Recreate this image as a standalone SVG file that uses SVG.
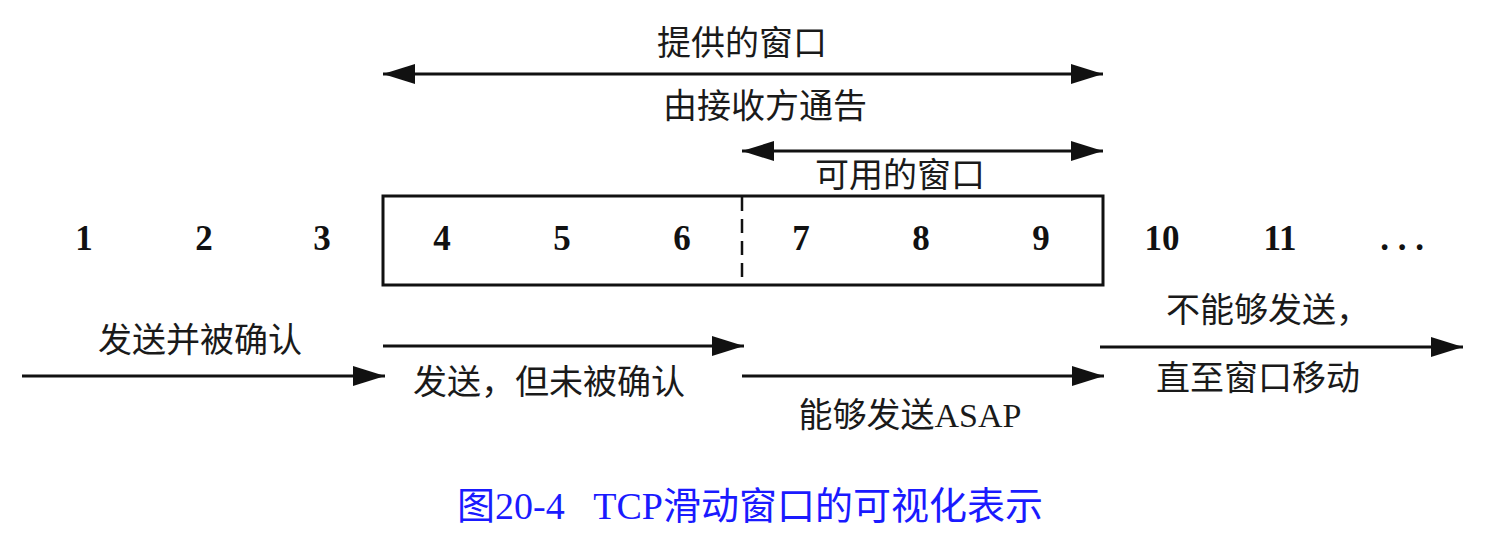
<svg xmlns="http://www.w3.org/2000/svg" width="1490" height="534" viewBox="0 0 1490 534">
<style>
.zh{font-family:"Liberation Serif","Noto Sans CJK SC",serif;font-size:34px;fill:#1a1a1a;text-anchor:middle}
.num{font-family:"Liberation Serif",serif;font-weight:bold;font-size:35px;fill:#111;text-anchor:middle}
.ln{stroke:#111;stroke-width:3;fill:none}
.cap{font-family:"Liberation Serif","Noto Sans CJK SC",serif;font-size:38px;fill:#1a1aff;text-anchor:middle}
</style>
<defs>
<marker id="ah" viewBox="0 0 32 20" refX="32" refY="10" markerWidth="32" markerHeight="20" markerUnits="userSpaceOnUse" orient="auto-start-reverse">
<path d="M0,0 L32,10 L0,20 z" fill="#111"/>
</marker>
</defs>
<rect width="1490" height="534" fill="#fff"/>
<g id="window-box">
<rect x="383" y="196" width="720" height="89" class="ln" stroke-width="2.5"/>
<line x1="742" y1="197" x2="742" y2="284" stroke="#111" stroke-width="2.5" stroke-dasharray="14,8"/>
</g>
<g id="numbers">
<text class="num" x="84" y="250">1</text>
<text class="num" x="204" y="250">2</text>
<text class="num" x="322" y="250">3</text>
<text class="num" x="442" y="250">4</text>
<text class="num" x="562" y="250">5</text>
<text class="num" x="682" y="250">6</text>
<text class="num" x="801" y="250">7</text>
<text class="num" x="921" y="250">8</text>
<text class="num" x="1041" y="250">9</text>
<text class="num" x="1162" y="250">10</text>
<text class="num" x="1280" y="250">11</text>
<text class="num" x="1402" y="250">. . .</text>
</g>
<g id="connectors">
<line x1="383" y1="74" x2="1103" y2="74" class="ln" marker-start="url(#ah)" marker-end="url(#ah)"/>
<line x1="742" y1="151" x2="1103" y2="151" class="ln" marker-start="url(#ah)" marker-end="url(#ah)"/>
<line x1="22" y1="376" x2="385" y2="376" class="ln" marker-end="url(#ah)"/>
<line x1="383" y1="346" x2="744" y2="346" class="ln" marker-end="url(#ah)"/>
<line x1="742" y1="376" x2="1104" y2="376" class="ln" marker-end="url(#ah)"/>
<line x1="1100" y1="347" x2="1463" y2="347" class="ln" marker-end="url(#ah)"/>
</g>
<g id="labels">
<text class="zh" x="742" y="55">提供的窗口</text>
<text class="zh" x="765" y="118">由接收方通告</text>
<text class="zh" x="900" y="187">可用的窗口</text>
<text class="zh" x="200" y="352">发送并被确认</text>
<text class="zh" x="549" y="394">发送，但未被确认</text>
<text class="zh" x="910" y="427">能够发送ASAP</text>
<text class="zh" x="1268" y="322">不能够发送，</text>
<text class="zh" x="1258" y="390">直至窗口移动</text>
</g>
<g id="caption">
<text class="cap" x="750" y="519" xml:space="preserve">图20-4   TCP滑动窗口的可视化表示</text>
</g>
</svg>
